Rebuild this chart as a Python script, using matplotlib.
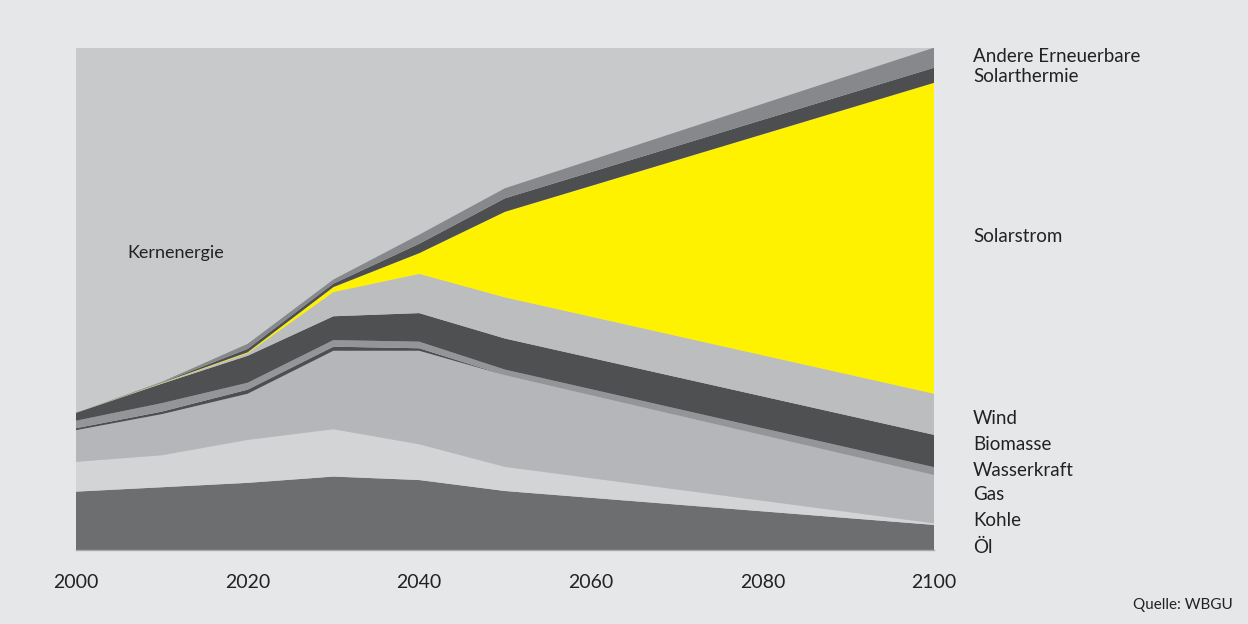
import numpy as np
import matplotlib
matplotlib.use("Agg")
import matplotlib.pyplot as plt

# years and stacked layers (EJ/a)
years = [2000, 2010, 2020, 2030, 2040, 2050, 2100]
oel = [186, 200, 214, 234, 223, 188, 80]
kohle = [95, 102, 137, 151, 114, 77, 5]
gas = [101, 131, 147, 250, 298, 292, 154]
kern = [6, 8, 13, 13, 8, 0, 0]
wasser = [24, 27, 22, 21, 21, 18, 25]
biomasse = [25, 62, 86, 76, 91, 99, 103]
wind = [0, 2, 8, 77, 125, 131, 131]
solarstrom = [0, 1, 3, 16, 66, 273, 991]
solarthermie = [0, 1, 11, 11, 30, 43, 48]
andere = [0, 2, 16, 13, 29, 32, 64]

layers = [oel, kohle, gas, kern, wasser, biomasse, wind, solarstrom, solarthermie, andere]
colors = ["#6d6e70", "#d3d4d6", "#b5b6b9", "#4d4e50", "#939598", "#4f5052",
          "#bcbdbf", "#fff200", "#4d4e50", "#87888b"]

# labels on the right, top to bottom
right_labels = ["Andere Erneuerbare", "Solarthermie", "Solarstrom", "Wind", "Biomasse",
                "Wasserkraft", "Gas", "Kohle", "Öl"]
right_label_px = [56, 76, 237, 419, 445, 470, 495, 521, 547]
xticks = [2000, 2020, 2040, 2060, 2080, 2100]

W, H = 1248, 624
plt.rcParams['font.family'] = ['Lato', 'DejaVu Sans']
fig = plt.figure(figsize=(W / 100, H / 100), dpi=100)
fig.patch.set_facecolor("#e6e7e9")

ax = fig.add_axes([76 / W, 1 - 550 / H, (934 - 76) / W, (550 - 48) / H])
ax.set_facecolor("#c8c9cb")
ax.stackplot(years, *layers, colors=colors, linewidth=0)
ax.set_xlim(2000, 2100)
ax.set_ylim(0, 1600)

for s in ["top", "left", "right"]:
    ax.spines[s].set_visible(False)
ax.spines["bottom"].set_color("#a7a9ac")
ax.spines["bottom"].set_linewidth(1)
ax.set_yticks([])
ax.set_xticks(xticks)
ax.set_xticklabels([str(t) for t in xticks], fontsize=14, color="#222222")
ax.tick_params(axis="x", length=0, pad=17)

ax.text(0.06, 1 - (253 - 48) / (550 - 48), "Kernenergie", transform=ax.transAxes,
        fontsize=13, color="#222222", va="center", ha="left")

for lab, py in zip(right_labels, right_label_px):
    fig.text(973 / W, 1 - py / H, lab, fontsize=13.5, color="#222222", va="center", ha="left")

fig.text(1233 / W, 1 - 605 / H, "Quelle: WBGU", fontsize=11, color="#222222",
         va="center", ha="right")

fig.savefig("out.png", dpi=100, facecolor=fig.get_facecolor())
